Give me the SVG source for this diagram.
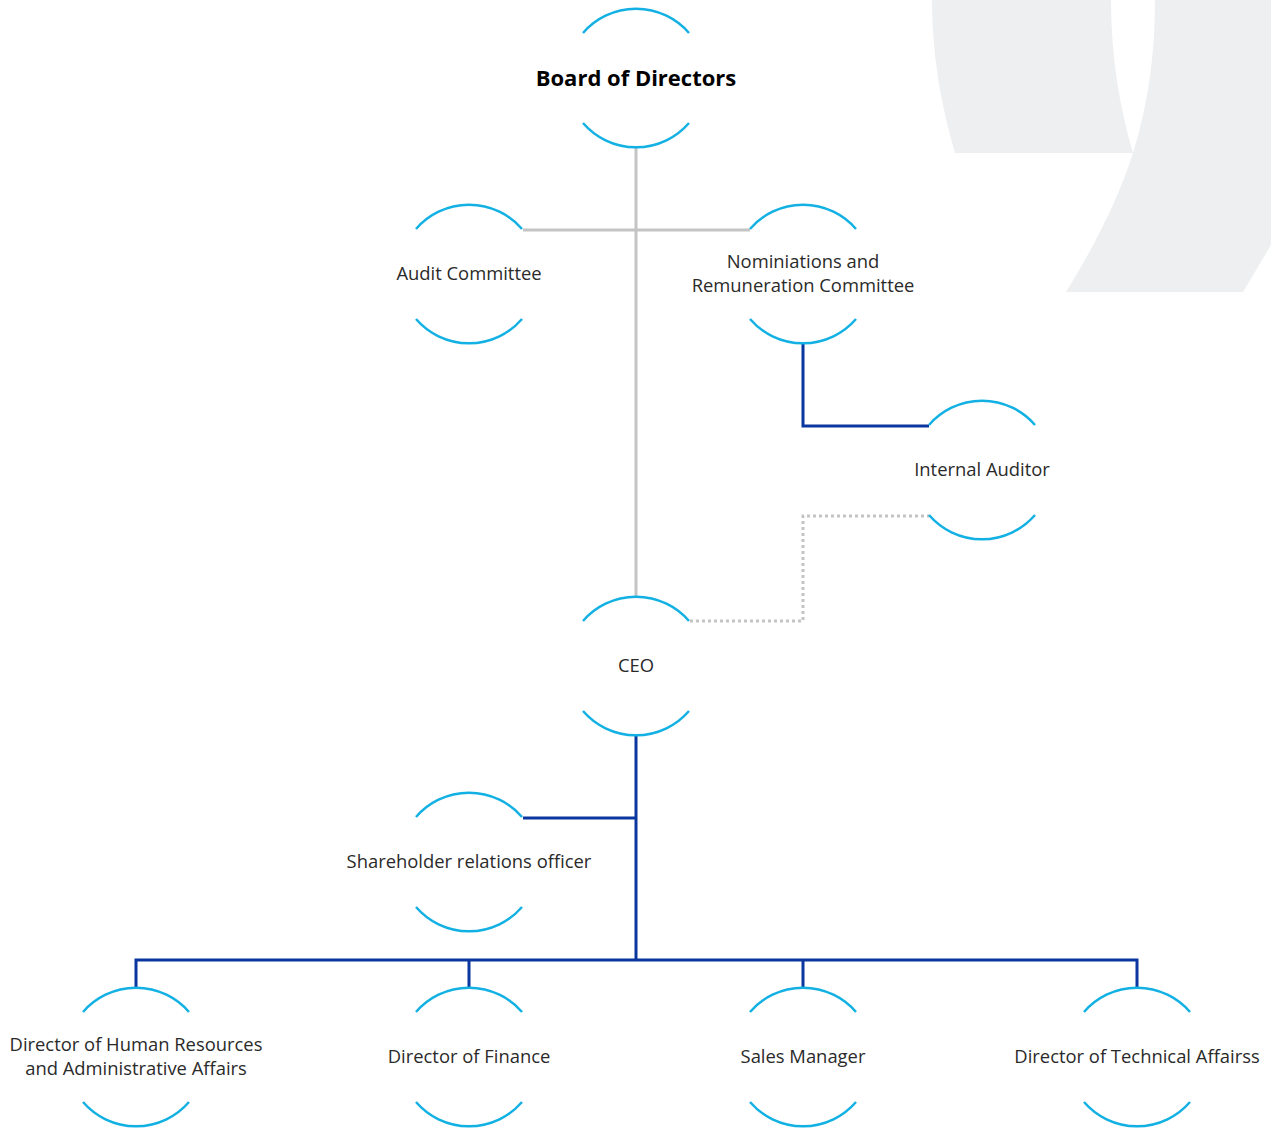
<svg xmlns="http://www.w3.org/2000/svg" width="1271" height="1130" viewBox="0 0 1271 1130">
<style>
.arc{fill:none;stroke:#13b1e3;stroke-width:2.5}
.t{font-family:"Open Sans","Liberation Sans",sans-serif;font-size:18.4px;fill:#2a2a2a;text-anchor:middle}
.tb{font-family:"Open Sans","Liberation Sans",sans-serif;font-size:22px;font-weight:bold;fill:#000;text-anchor:middle}
.gray{fill:none;stroke:#c4c4c4;stroke-width:3}
.dot{fill:none;stroke:#c4c4c4;stroke-width:3;stroke-dasharray:3 3}
.blue{fill:none;stroke:#0a36a0;stroke-width:3}
</style>
<defs>
<g id="ring">
<path class="arc" d="M-53,-45 A70,70 0 0 1 53,-45"/>
<path class="arc" d="M-53,45 A70,70 0 0 0 53,45"/>
</g>
</defs>
<rect width="1271" height="1130" fill="#fff"/>
<g id="bg" fill="#eeeff1">
<path d="M932,0 L1111,0 C1111,55 1119,105 1133,153 L955,153 C941,105 932,55 932,0 Z"/>
<path d="M1155,0 L1271,0 L1271,245 L1243,292 L1066,292 C1095,245 1118,200 1133,153 C1148,105 1155,55 1155,0 Z"/>
</g>
<g id="connectors">
<path class="gray" d="M636,148 V597"/>
<path class="gray" d="M523,230 H750"/>
<path class="blue" d="M803,344 V426 H929"/>
<path class="dot" d="M690,621 H803 V516 H929"/>
<path class="blue" d="M636,736 V960"/>
<path class="blue" d="M523,818 H636"/>
<path class="blue" d="M136,988 V960 H1137 V988"/>
<path class="blue" d="M469,960 V988"/>
<path class="blue" d="M803,960 V988"/>
</g>
<g id="board"><use href="#ring" x="636" y="78"/><text class="tb" x="636" y="86">Board of Directors</text></g>
<g id="audit"><use href="#ring" x="469" y="274"/><text class="t" x="469" y="280">Audit Committee</text></g>
<g id="nominations"><use href="#ring" x="803" y="274"/><text class="t" x="803" y="268">Nominiations and</text><text class="t" x="803" y="292">Remuneration Committee</text></g>
<g id="internal-auditor"><use href="#ring" x="982" y="470"/><text class="t" x="982" y="476">Internal Auditor</text></g>
<g id="ceo"><use href="#ring" x="636" y="666"/><text class="t" x="636" y="672">CEO</text></g>
<g id="shareholder"><use href="#ring" x="469" y="862"/><text class="t" x="469" y="868">Shareholder relations officer</text></g>
<g id="hr"><use href="#ring" x="136" y="1057"/><text class="t" x="136" y="1051">Director of Human Resources</text><text class="t" x="136" y="1075">and Administrative Affairs</text></g>
<g id="finance"><use href="#ring" x="469" y="1057"/><text class="t" x="469" y="1063">Director of Finance</text></g>
<g id="sales"><use href="#ring" x="803" y="1057"/><text class="t" x="803" y="1063">Sales Manager</text></g>
<g id="technical"><use href="#ring" x="1137" y="1057"/><text class="t" x="1137" y="1063">Director of Technical Affairss</text></g>
</svg>
